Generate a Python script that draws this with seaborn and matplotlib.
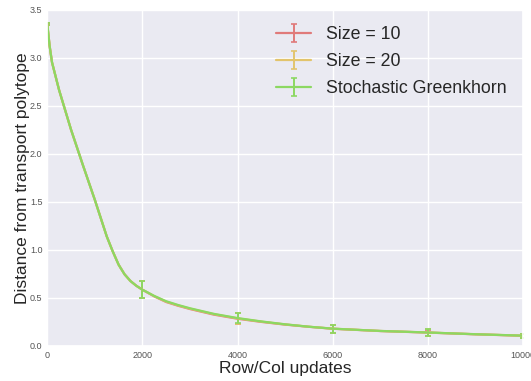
import numpy as np
import pandas as pd
import seaborn as sns
import matplotlib
matplotlib.use("Agg")
import matplotlib.pyplot as plt

# values
updates = [0, 50, 100, 250, 500, 750, 1000, 1250, 1375, 1500, 1625, 1750, 1875, 2000,
           2250, 2500, 2750, 3000, 3500, 4000, 4500, 5000, 5500, 6000, 7000, 8000, 9000, 10000]
size10 = [3.35, 3.12, 2.95, 2.66, 2.25, 1.88, 1.52, 1.14, 0.985, 0.845, 0.745, 0.675, 0.625, 0.585,
          0.515, 0.457, 0.418, 0.384, 0.326, 0.283, 0.25, 0.222, 0.199, 0.179, 0.155, 0.139, 0.121, 0.106]
size20 = [3.35, 3.12, 2.95, 2.66, 2.25, 1.88, 1.52, 1.14, 0.985, 0.845, 0.745, 0.675, 0.625, 0.585,
          0.518, 0.461, 0.422, 0.388, 0.331, 0.287, 0.253, 0.224, 0.2, 0.18, 0.156, 0.14, 0.122, 0.107]
greenkhorn = [3.35, 3.12, 2.95, 2.66, 2.25, 1.88, 1.52, 1.14, 0.985, 0.845, 0.745, 0.675, 0.625, 0.585,
              0.52, 0.465, 0.426, 0.392, 0.334, 0.29, 0.255, 0.225, 0.2, 0.18, 0.156, 0.14, 0.122, 0.107]

err_updates = [0, 2000, 4000, 6000, 8000, 10000]
err_size = [0.01, 0.09, 0.055, 0.042, 0.032, 0.02]

labels = ["Size = 10", "Size = 20", "Stochastic Greenkhorn"]
colors = ["#e07a7a", "#e2c46c", "#8cd862"]

df = pd.DataFrame({"updates": updates, "Size = 10": size10,
                   "Size = 20": size20, "Stochastic Greenkhorn": greenkhorn})
errs = pd.DataFrame({"updates": err_updates, "err": err_size})
df = df.merge(errs, on="updates", how="left")
show_err = df["err"].notna().values
df["err"] = df["err"].fillna(0)

sns.set_theme(style="darkgrid")
plt.rcParams["font.family"] = ["Liberation Sans", "DejaVu Sans"]

fig = plt.figure(figsize=(5.31, 3.81), dpi=100)
ax = fig.add_axes([0.089, 0.092, 0.896, 0.883])

for lab, col in zip(labels, colors):
    ax.errorbar(df["updates"], df[lab], yerr=df["err"], errorevery=show_err,
                color=col, lw=1.6, elinewidth=1.4, capsize=2.5, capthick=1.2,
                label=lab)

ax.set_xlim(0, 10000)
ax.set_ylim(0, 3.5)
ax.set_xticks([0, 2000, 4000, 6000, 8000, 10000])
ax.set_yticks(np.arange(0, 3.51, 0.5))
ax.tick_params(labelsize=6.5, colors="#555555", length=0, pad=3.5)
ax.set_xlabel("Row/Col updates", fontsize=12.5, labelpad=1)
ax.set_ylabel("Distance from transport polytope", fontsize=12.5, labelpad=0)
ax.legend(loc="upper right", frameon=False, fontsize=12.8, borderaxespad=0.55,
          handletextpad=0.8, labelspacing=0.55)

fig.savefig("out.png", dpi=100)
